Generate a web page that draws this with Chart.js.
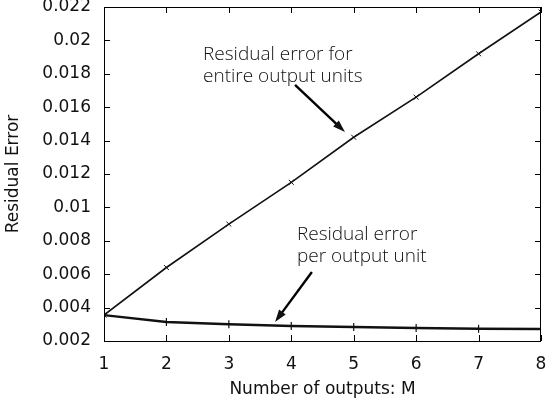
<!DOCTYPE html>
<html>
<head>
<meta charset="utf-8">
<script src="https://cdn.jsdelivr.net/npm/chart.js@4.4.1/dist/chart.umd.min.js"></script>
<style>
  html, body { margin: 0; padding: 0; background: #fff; }
  #wrap { width: 548px; height: 402px; }
</style>
</head>
<body>
<div id="wrap"><canvas id="resChart"></canvas></div>
<script>
// values
const outputs = [1, 2, 3, 4, 5, 6, 7, 8];
const entireError = [0.00355, 0.0064, 0.0090, 0.0115, 0.0142, 0.0166, 0.0192, 0.0217];
const perUnitError = [0.00355, 0.00314, 0.00300, 0.00290, 0.00284, 0.00278, 0.00273, 0.00272];
const yTicks = [0.002, 0.004, 0.006, 0.008, 0.01, 0.012, 0.014, 0.016, 0.018, 0.02, 0.022];
const xTicks = [1, 2, 3, 4, 5, 6, 7, 8];

// annotation text and arrows, in data units
const notes = [
  { x: 2.586, y: 0.01883, lines: ['Residual error for', 'entire output units'],
    from: [4.06, 0.01733], to: [4.86, 0.01452] },
  { x: 4.09, y: 0.00805, lines: ['Residual error', 'per output unit'],
    from: [4.33, 0.00613], to: [3.74, 0.00314] }
];

const frameAndNotes = {
  id: 'frameAndNotes',
  afterDatasetsDraw(chart) {
    const { ctx, chartArea: a, scales: { x, y } } = chart;
    ctx.save();
    ctx.strokeStyle = '#000';
    ctx.lineWidth = 1;
    ctx.strokeRect(a.left + 0.5, a.top + 0.5, a.right - a.left - 1, a.bottom - a.top);
    // inward ticks on all four sides
    ctx.beginPath();
    xTicks.forEach(v => {
      const px = Math.round(x.getPixelForValue(v)) + 0.5;
      ctx.moveTo(px, a.bottom); ctx.lineTo(px, a.bottom - 6);
      ctx.moveTo(px, a.top); ctx.lineTo(px, a.top + 6);
    });
    yTicks.forEach(v => {
      const py = Math.round(y.getPixelForValue(v)) + 0.5;
      ctx.moveTo(a.left, py); ctx.lineTo(a.left + 6, py);
      ctx.moveTo(a.right, py); ctx.lineTo(a.right - 6, py);
    });
    ctx.stroke();

    ctx.fillStyle = '#111';
    ctx.font = '300 19px "Open Sans", sans-serif';
    ctx.textBaseline = 'alphabetic';
    notes.forEach(n => {
      const tx = x.getPixelForValue(n.x);
      const ty = y.getPixelForValue(n.y);
      n.lines.forEach((t, i) => ctx.fillText(t, tx, ty + i * 22));

      const x0 = x.getPixelForValue(n.from[0]), y0 = y.getPixelForValue(n.from[1]);
      const x1 = x.getPixelForValue(n.to[0]), y1 = y.getPixelForValue(n.to[1]);
      const ang = Math.atan2(y1 - y0, x1 - x0);
      const head = 13, spread = 0.32;
      ctx.beginPath();
      ctx.lineWidth = 2.4;
      ctx.moveTo(x0, y0);
      ctx.lineTo(x1 - Math.cos(ang) * head * 0.8, y1 - Math.sin(ang) * head * 0.8);
      ctx.stroke();
      ctx.beginPath();
      ctx.moveTo(x1, y1);
      ctx.lineTo(x1 - head * Math.cos(ang - spread), y1 - head * Math.sin(ang - spread));
      ctx.lineTo(x1 - head * Math.cos(ang + spread), y1 - head * Math.sin(ang + spread));
      ctx.closePath();
      ctx.fill();
    });
    ctx.restore();
  }
};

const tickFont = { family: '"DejaVu Sans", sans-serif', size: 17 };

new Chart(document.getElementById('resChart'), {
  type: 'line',
  data: {
    datasets: [
      {
        label: 'Residual error for entire output units',
        data: outputs.map((m, i) => ({ x: m, y: entireError[i] })),
        borderColor: '#111',
        backgroundColor: '#111',
        borderWidth: 1.6,
        pointStyle: 'crossRot',
        pointRadius: 3.5,
        pointBorderWidth: 1,
        tension: 0
      },
      {
        label: 'Residual error per output unit',
        data: outputs.map((m, i) => ({ x: m, y: perUnitError[i] })),
        borderColor: '#111',
        backgroundColor: '#111',
        borderWidth: 2.4,
        pointStyle: 'line',
        pointRotation: 90,
        pointRadius: 4,
        pointBorderWidth: 1.2,
        tension: 0
      }
    ]
  },
  options: {
    responsive: true,
    maintainAspectRatio: false,
    animation: false,
    layout: { padding: { left: 0, right: 7, top: 7, bottom: 0 } },
    plugins: {
      legend: { display: false },
      tooltip: { enabled: false }
    },
    scales: {
      x: {
        type: 'linear',
        min: 1,
        max: 8,
        afterBuildTicks: s => { s.ticks = xTicks.map(v => ({ value: v })); },
        afterFit: s => { s.height = 61; s.paddingLeft = 0; s.paddingRight = 0; },
        grid: { display: false, drawTicks: false },
        border: { display: false },
        ticks: { color: '#111', font: tickFont, padding: 13, maxRotation: 0 },
        title: {
          display: true,
          text: 'Number of outputs: M',
          color: '#111',
          font: tickFont,
          padding: { top: 0, bottom: 2 }
        }
      },
      y: {
        type: 'linear',
        min: 0.002,
        max: 0.022,
        afterBuildTicks: s => { s.ticks = yTicks.map(v => ({ value: v })); },
        afterFit: s => { s.width = 104; s.paddingTop = 0; s.paddingBottom = 0; },
        grid: { display: false, drawTicks: false },
        border: { display: false },
        ticks: {
          color: '#111',
          font: tickFont,
          padding: 13,
          callback: v => String(Number(v.toFixed(3)))
        },
        title: {
          display: true,
          text: 'Residual Error',
          color: '#111',
          font: tickFont,
          padding: { top: 3, bottom: 0 }
        }
      }
    }
  },
  plugins: [frameAndNotes]
});
</script>
</body>
</html>
